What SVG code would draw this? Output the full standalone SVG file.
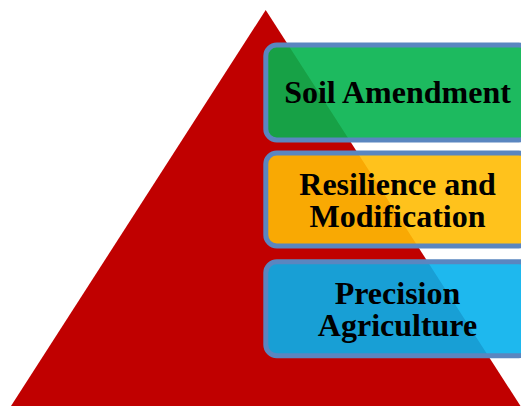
<svg xmlns="http://www.w3.org/2000/svg" width="521" height="406" viewBox="0 0 521 406">
  <style>
    .box { stroke: #5A86C0; stroke-width: 5; fill-opacity: 0.9; }
    .label { font-family: "Liberation Serif", "Times New Roman", serif; font-weight: bold; font-size: 32px; fill: #000000; text-anchor: middle; }
  </style>
  <rect x="0" y="0" width="521" height="406" fill="#FFFFFF"/>

  <!-- Pyramid background -->
  <g id="pyramid">
    <polygon points="265.7,10 11,406 520.5,406" fill="#C00000"/>
  </g>

  <!-- Layer boxes, top to bottom -->
  <g id="soil-amendment">
    <rect class="box" x="265.8" y="45" width="264" height="95" rx="11" ry="11" fill="#04B34E"/>
    <text class="label" x="397.5" y="103">Soil Amendment</text>
  </g>

  <g id="resilience-modification">
    <rect class="box" x="265.8" y="153" width="264" height="93" rx="11" ry="11" fill="#FFBB03"/>
    <text class="label" x="397.5" y="195">Resilience and<tspan x="397.5" dy="32">Modification</tspan></text>
  </g>

  <g id="precision-agriculture">
    <rect class="box" x="265.8" y="261.7" width="264" height="94" rx="11" ry="11" fill="#05B0EC"/>
    <text class="label" x="397.5" y="304">Precision<tspan x="397.5" dy="31.5">Agriculture</tspan></text>
  </g>

  <g id="connectors"></g>
</svg>
